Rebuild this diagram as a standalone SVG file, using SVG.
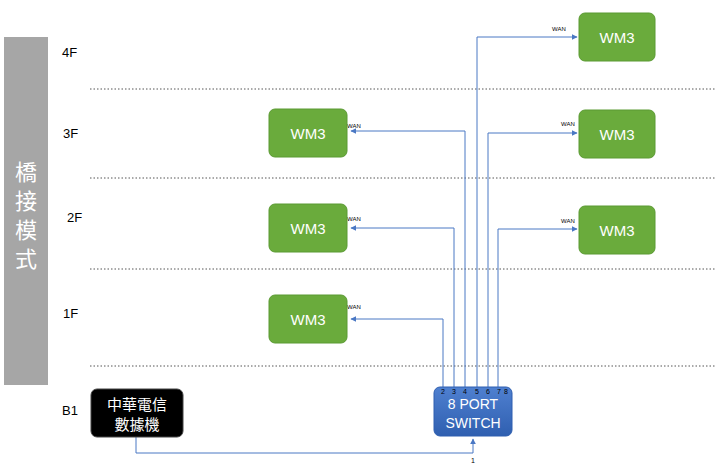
<svg xmlns="http://www.w3.org/2000/svg" width="720" height="472" viewBox="0 0 720 472">
<defs>
<style>
.wm rect{fill:#6aab3c;stroke:#5a9a32;stroke-width:1}
.wm text{fill:#fff;font:15px "Liberation Sans",Arial,sans-serif;text-anchor:middle}
.fl{font:13px "Liberation Sans",Arial,sans-serif;fill:#000}
.wan{font:6px "Liberation Sans",Arial,sans-serif;fill:#000}
.pt{font:7px "Liberation Sans",Arial,sans-serif;fill:#000}
.c path{fill:none;stroke:#4a78c4;stroke-width:1}
.dot{stroke:#555;stroke-width:1;stroke-dasharray:1.5 2}
.v{font-family:"Noto Sans CJK TC",sans-serif;font-size:22px;fill:#fff;text-anchor:middle}
</style>
<marker id="a" viewBox="0 0 10 10" refX="9" refY="5" markerWidth="6" markerHeight="6" orient="auto"><path d="M0,0L10,5L0,10z" fill="#4a78c4"/></marker>
<linearGradient id="g" x1="0" y1="0" x2="0" y2="1"><stop offset="0" stop-color="#4f80d0"/><stop offset="1" stop-color="#2f5fb0"/></linearGradient>
</defs>
<rect width="720" height="472" fill="#fff"/>
<g id="bar"><rect x="4" y="37" width="44" height="348" fill="#a6a6a6"/>
<text class="v" x="26" y="180">橋</text>
<text class="v" x="26" y="209">接</text>
<text class="v" x="26" y="238">模</text>
<text class="v" x="26" y="267">式</text></g>
<line class="dot" x1="90" y1="89" x2="715" y2="89"/>
<line class="dot" x1="90" y1="178" x2="715" y2="178"/>
<line class="dot" x1="90" y1="269" x2="715" y2="269"/>
<line class="dot" x1="90" y1="366" x2="715" y2="366"/>
<text class="fl" x="62" y="57">4F</text>
<text class="fl" x="63" y="138">3F</text>
<text class="fl" x="67" y="222">2F</text>
<text class="fl" x="63" y="318">1F</text>
<text class="fl" x="62" y="415">B1</text>
<g class="c">
<path d="M443,387V319H351" marker-end="url(#a)"/>
<path d="M454,387V228H351" marker-end="url(#a)"/>
<path d="M465,387V131H351" marker-end="url(#a)"/>
<path d="M477,387V37H577" marker-end="url(#a)"/>
<path d="M488,387V133H577" marker-end="url(#a)"/>
<path d="M498,387V229H577" marker-end="url(#a)"/>
<path d="M136,437V453H473V439" marker-end="url(#a)"/>
</g>
<text class="wan" x="347" y="128">WAN</text>
<text class="wan" x="347" y="221">WAN</text>
<text class="wan" x="347" y="309">WAN</text>
<text class="wan" x="552" y="31">WAN</text>
<text class="wan" x="561" y="126">WAN</text>
<text class="wan" x="561" y="223">WAN</text>
<g id="wm3-3fl" class="wm"><rect x="269" y="109" width="78" height="48" rx="6"/><text x="308" y="139">WM3</text></g>
<g id="wm3-2fl" class="wm"><rect x="269" y="204" width="78" height="48" rx="6"/><text x="308" y="234">WM3</text></g>
<g id="wm3-1fl" class="wm"><rect x="269" y="295" width="78" height="48" rx="6"/><text x="308" y="325">WM3</text></g>
<g id="wm3-4fr" class="wm"><rect x="579" y="13" width="76" height="48" rx="6"/><text x="617" y="43">WM3</text></g>
<g id="wm3-3fr" class="wm"><rect x="579" y="110" width="76" height="48" rx="6"/><text x="617" y="140">WM3</text></g>
<g id="wm3-2fr" class="wm"><rect x="579" y="206" width="76" height="48" rx="6"/><text x="617" y="236">WM3</text></g>
<g id="modem"><rect x="91" y="389" width="92" height="48" rx="6" fill="#000" stroke="#444"/>
<text x="137" y="410" font-family="Noto Sans CJK TC,sans-serif" font-size="15" fill="#fff" text-anchor="middle">中華電信</text>
<text x="137" y="430" font-family="Noto Sans CJK TC,sans-serif" font-size="15" fill="#fff" text-anchor="middle">數據機</text></g>
<g id="switch"><rect x="434" y="387" width="78" height="49" rx="6" fill="url(#g)" stroke="#2f5fb0"/>
<text x="473" y="409" font-family="Liberation Sans,sans-serif" font-size="14" fill="#fff" text-anchor="middle">8 PORT</text>
<text x="473" y="428" font-family="Liberation Sans,sans-serif" font-size="14" fill="#fff" text-anchor="middle">SWITCH</text>
<text class="pt" x="441" y="394">2</text><text class="pt" x="452" y="394">3</text><text class="pt" x="463" y="394">4</text><text class="pt" x="475" y="394">5</text><text class="pt" x="486" y="394">6</text><text class="pt" x="497" y="394">7</text><text class="pt" x="504" y="394">8</text>
<text class="pt" x="471" y="463">1</text></g>
</svg>
